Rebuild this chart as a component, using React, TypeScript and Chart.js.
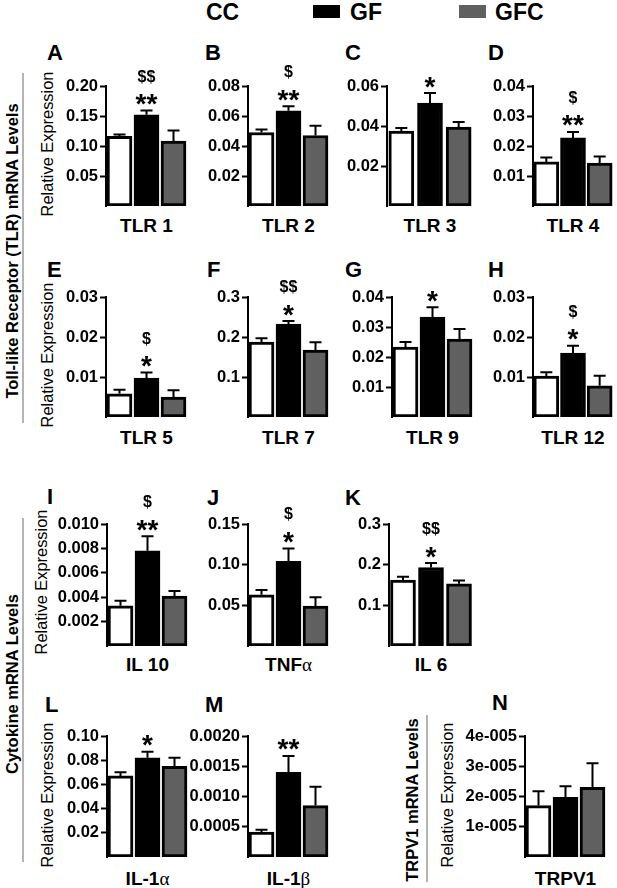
import React, { useEffect, useRef } from "react";
import { Chart, registerables } from "chart.js";

Chart.register(...registerables);

const FONT = '"Liberation Sans", Arial, Helvetica, sans-serif';
Chart.defaults.font.family = FONT;

// groups and panels
const groups = ["CC", "GF", "GFC"];
const groupColors = ["#ffffff", "#000000", "#606060"];
const letters = ["A", "B", "C", "D", "E", "F", "G", "H", "I", "J", "K", "L", "M", "N"];
const genes = [
  "TLR 1", "TLR 2", "TLR 3", "TLR 4",
  "TLR 5", "TLR 7", "TLR 9", "TLR 12",
  "IL 10", "TNFα", "IL 6",
  "IL-1α", "IL-1β", "TRPV1",
];

// means and SEMs
const ccMean = [0.116, 0.049, 0.0375, 0.0147, 0.0058, 0.187, 0.0233, 0.0102, 0.0033, 0.063, 0.162, 0.067, 0.00041, 1.7e-5];
const ccSem = [0.003, 0.002, 0.0015, 0.0015, 0.001, 0.01, 0.0017, 0.001, 0.0004, 0.006, 0.008, 0.003, 0.00004, 0.47e-5];
const gfMean = [0.152, 0.0635, 0.0515, 0.0227, 0.0097, 0.232, 0.0333, 0.016, 0.0078, 0.104, 0.193, 0.082, 0.0014, 1.97e-5];
const gfSem = [0.007, 0.003, 0.005, 0.002, 0.0014, 0.008, 0.0033, 0.0018, 0.0012, 0.016, 0.011, 0.005, 0.00027, 0.37e-5];
const gfcMean = [0.108, 0.047, 0.0395, 0.0143, 0.005, 0.167, 0.026, 0.0078, 0.0041, 0.049, 0.153, 0.075, 0.00085, 2.3e-5];
const gfcSem = [0.018, 0.0065, 0.0025, 0.0022, 0.0017, 0.02, 0.0033, 0.0025, 0.0004, 0.011, 0.008, 0.007, 0.00031, 0.8e-5];

// significance marks over the GF bar
const gfStars = ["**", "**", "*", "**", "*", "*", "*", "*", "**", "*", "*", "*", "**", ""];
const gfDollars = ["$$", "$", "", "$", "$", "$$", "", "$", "$", "$", "$$", "", "", ""];

// y axes
const yMax = [0.2, 0.08, 0.06, 0.04, 0.03, 0.3, 0.04, 0.03, 0.01, 0.15, 0.3, 0.1, 0.002, 4e-5];
const tickLabels = [
  ["0.05", "0.10", "0.15", "0.20"],
  ["0.02", "0.04", "0.06", "0.08"],
  ["0.02", "0.04", "0.06"],
  ["0.01", "0.02", "0.03", "0.04"],
  ["0.01", "0.02", "0.03"],
  ["0.1", "0.2", "0.3"],
  ["0.01", "0.02", "0.03", "0.04"],
  ["0.01", "0.02", "0.03"],
  ["0.002", "0.004", "0.006", "0.008", "0.010"],
  ["0.05", "0.10", "0.15"],
  ["0.1", "0.2", "0.3"],
  ["0.02", "0.04", "0.06", "0.08", "0.10"],
  ["0.0005", "0.0010", "0.0015", "0.0020"],
  ["1e-005", "2e-005", "3e-005", "4e-005"],
];

// layout
const panelAxisX = [106, 248, 387, 533, 106, 248, 392, 533, 107, 248, 389, 107, 248, 525];
const panelPlotW = [81, 81, 86, 80, 81, 81, 81, 80, 81, 81, 84, 81, 81, 81];
const panelRow = [0, 0, 0, 0, 1, 1, 1, 1, 2, 2, 2, 3, 3, 3];
const rowTop = [86, 297, 524, 736];
const rowBase = [206, 417, 646, 857];
const rowLabelY = [225, 437, 664, 878];
const letterX = [47, 205, 345, 488, 47, 207, 345, 488, 47, 207, 345, 45, 205, 492];
const letterY = [53, 53, 53, 53, 270, 270, 270, 270, 497, 498, 498, 705, 705, 703];

const AXIS_ROOM = 62;
const TOP_ROOM = 40;
const RIGHT_ROOM = 4;
const BOTTOM_ROOM = 12;

function drawCentered(ctx: CanvasRenderingContext2D, text: string, x: number, cy: number) {
  const m = ctx.measureText(text);
  const base = cy + (m.actualBoundingBoxAscent - m.actualBoundingBoxDescent) / 2;
  ctx.fillText(text, x, base);
}

const Panel: React.FC<{ index: number }> = ({ index }) => {
  const canvasRef = useRef<HTMLCanvasElement>(null);
  const row = panelRow[index];
  const axisX = panelAxisX[index];
  const plotW = panelPlotW[index];
  const top = rowTop[row];
  const base = rowBase[row];
  const width = AXIS_ROOM + plotW + RIGHT_ROOM;
  const height = TOP_ROOM + (base - top) + BOTTOM_ROOM;

  useEffect(() => {
    const canvas = canvasRef.current;
    if (!canvas) return;
    const labels = tickLabels[index];
    const values = labels.map(Number);
    const sems = [ccSem[index], gfSem[index], gfcSem[index]];

    const errorBars = {
      id: "errorBars",
      afterDatasetsDraw(chart: Chart) {
        const ctx = chart.ctx;
        const y = chart.scales.y;
        const meta = chart.getDatasetMeta(0);
        const data = chart.data.datasets[0].data as number[];
        ctx.save();
        ctx.strokeStyle = "#000";
        ctx.fillStyle = "#000";
        ctx.lineWidth = 2;
        meta.data.forEach((bar: any, i: number) => {
          const yBar = y.getPixelForValue(data[i]);
          const yErr = y.getPixelForValue(data[i] + sems[i]);
          ctx.beginPath();
          ctx.moveTo(bar.x, yBar);
          ctx.lineTo(bar.x, yErr);
          ctx.moveTo(bar.x - 6, yErr);
          ctx.lineTo(bar.x + 6, yErr);
          ctx.stroke();
          if (i === 1) {
            ctx.textAlign = "center";
            if (gfStars[index]) {
              ctx.font = `bold 28px ${FONT}`;
              drawCentered(ctx, gfStars[index], bar.x, yErr - 11);
            }
            if (gfDollars[index]) {
              ctx.font = `bold 16px ${FONT}`;
              drawCentered(ctx, gfDollars[index], bar.x, yErr - 34);
            }
          }
        });
        ctx.restore();
      },
    };

    const chart = new Chart(canvas, {
      type: "bar",
      data: {
        labels: groups,
        datasets: [
          {
            label: genes[index],
            data: [ccMean[index], gfMean[index], gfcMean[index]],
            backgroundColor: groupColors,
            borderColor: "#000",
            borderWidth: 3,
            borderSkipped: false,
            barThickness: 25,
          },
        ],
      },
      options: {
        responsive: false,
        animation: false,
        layout: { padding: { top: TOP_ROOM, right: RIGHT_ROOM, bottom: BOTTOM_ROOM, left: 0 } },
        plugins: { legend: { display: false }, tooltip: { enabled: false } },
        scales: {
          x: { display: false },
          y: {
            min: 0,
            max: yMax[index],
            afterFit: (s: any) => {
              s.width = AXIS_ROOM;
            },
            afterBuildTicks: (s: any) => {
              s.ticks = values.map((v) => ({ value: v }));
            },
            ticks: {
              autoSkip: false,
              callback: (_v: any, i: number) => labels[i],
              font: { size: 16.5, weight: "bold" },
              color: "#000",
              padding: 2,
            },
            grid: { drawOnChartArea: false, color: "#000", tickLength: 6, tickWidth: 2 },
            border: { color: "#000", width: 2 },
          },
        },
      },
      plugins: [errorBars],
    });

    return () => {
      chart.destroy();
    };
  }, [index]);

  return (
    <canvas
      ref={canvasRef}
      width={width}
      height={height}
      style={{ position: "absolute", left: axisX - AXIS_ROOM, top: top - TOP_ROOM, width, height }}
    />
  );
};

const GeneLabel: React.FC<{ text: string }> = ({ text }) => (
  <>
    {text.split("").map((ch, i) =>
      /[α-ω]/.test(ch) ? (
        <span key={i} style={{ fontFamily: '"Liberation Serif", "DejaVu Serif", serif', fontWeight: "normal" }}>
          {ch}
        </span>
      ) : (
        <span key={i}>{ch}</span>
      )
    )}
  </>
);

const Rotated: React.FC<{ x: number; y: number; size: number; bold?: boolean; children: React.ReactNode }> = ({
  x, y, size, bold, children,
}) => (
  <div
    style={{
      position: "absolute",
      left: x,
      top: y,
      transform: "translate(-50%, -50%) rotate(-90deg)",
      whiteSpace: "nowrap",
      fontSize: size,
      fontWeight: bold ? "bold" : "normal",
      lineHeight: 1,
    }}
  >
    {children}
  </div>
);

const relExpPos = [
  [47, 144], [47, 355], [41, 582], [47, 795], [447, 795],
];

const legendText: React.CSSProperties = {
  position: "absolute",
  top: 12,
  transform: "translateY(-50%)",
  fontSize: 23,
  fontWeight: "bold",
  lineHeight: 1,
};

const App: React.FC = () => {
  return (
    <div
      style={{
        position: "absolute",
        left: 0,
        top: 0,
        width: 617,
        height: 888,
        background: "#fff",
        fontFamily: FONT,
        color: "#000",
        overflow: "hidden",
      }}
    >
      {/* legend */}
      <div style={{ position: "absolute", left: 176, top: 5, width: 27, height: 13, background: groupColors[0] }} />
      <div style={{ ...legendText, left: 206 }}>{groups[0]}</div>
      <div style={{ position: "absolute", left: 313, top: 5, width: 27, height: 13, background: groupColors[1] }} />
      <div style={{ ...legendText, left: 350 }}>{groups[1]}</div>
      <div style={{ position: "absolute", left: 459, top: 5, width: 27, height: 13, background: groupColors[2] }} />
      <div style={{ ...legendText, left: 495 }}>{groups[2]}</div>

      {/* side titles */}
      <div style={{ position: "absolute", left: 22, top: 73, width: 2, height: 350, background: "#b4b4b4" }} />
      <Rotated x={12} y={251} size={16.5} bold>
        Toll-like Receptor (TLR) mRNA Levels
      </Rotated>
      <div style={{ position: "absolute", left: 22, top: 518, width: 2, height: 344, background: "#b4b4b4" }} />
      <Rotated x={12} y={684} size={16.5} bold>
        Cytokine mRNA Levels
      </Rotated>
      <div style={{ position: "absolute", left: 426, top: 715, width: 2, height: 167, background: "#b4b4b4" }} />
      <Rotated x={412} y={800} size={16.5} bold>
        TRPV1 mRNA Levels
      </Rotated>
      {relExpPos.map(([x, y], i) => (
        <Rotated key={i} x={x} y={y} size={16.4}>
          Relative Expression
        </Rotated>
      ))}

      {letters.map((l, i) => (
        <div
          key={l}
          style={{
            position: "absolute",
            left: letterX[i],
            top: letterY[i],
            transform: "translateY(-50%)",
            fontSize: 22,
            fontWeight: "bold",
            lineHeight: 1,
          }}
        >
          {l}
        </div>
      ))}

      {genes.map((g, i) => (
        <div
          key={g}
          style={{
            position: "absolute",
            left: panelAxisX[i] + panelPlotW[i] / 2,
            top: rowLabelY[panelRow[i]],
            transform: "translate(-50%, -50%)",
            fontSize: 19,
            fontWeight: "bold",
            lineHeight: 1,
            whiteSpace: "nowrap",
          }}
        >
          <GeneLabel text={g} />
        </div>
      ))}

      {letters.map((_l, i) => (
        <Panel key={i} index={i} />
      ))}
    </div>
  );
};

export default App;
